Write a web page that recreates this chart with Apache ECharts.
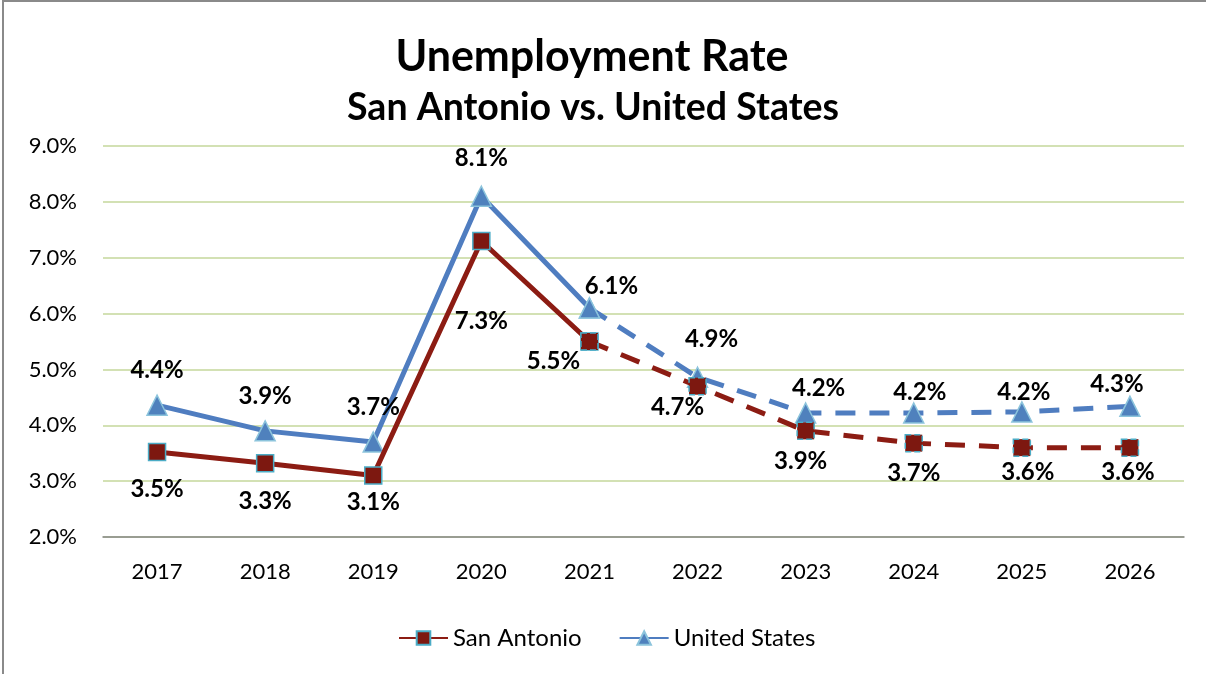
<!DOCTYPE html>
<html>
<head>
<meta charset="utf-8">
<script src="https://cdn.jsdelivr.net/npm/echarts@6/dist/echarts.min.js"></script>
<style>
  html, body { margin: 0; padding: 0; background: #fff; }
  #chart { width: 1206px; height: 674px; }
</style>
</head>
<body>
<div id="chart"></div>
<script>
// Years on the category axis
const years = ['2017', '2018', '2019', '2020', '2021', '2022', '2023', '2024', '2025', '2026'];

// Unemployment rate (%) by year
const sanAntonio = [3.52, 3.32, 3.1, 7.3, 5.5, 4.7, 3.9, 3.68, 3.6, 3.6];
const unitedStates = [4.36, 3.9, 3.7, 8.1, 6.1, 4.86, 4.22, 4.22, 4.24, 4.34];

// Index of the last actual year; later years are projections (dashed)
const lastActual = 4;

// Y axis ticks
const yMin = 2, yMax = 9, yStep = 1;

// Label placement relative to each point [dx, dy]
const saLabelOffset = [[0, 37], [0, 38], [0, 27], [0, 80], [-36, 20], [-20, 21], [-5, 30], [0, 30], [6, 25], [-2, 25]];
const usLabelOffset = [[0, -35], [0, -35], [0, -35], [0, -38], [22, -22], [14, -38], [13, -25], [6, -21], [2, -20], [-13, -22]];

const FONT = 'Lato, "Open Sans", sans-serif';

function pct(v) { return v.toFixed(1) + '%'; }

function part(values, offsets, from, to, labelFrom) {
  return values.map((v, i) => {
    if (i < from || i > to) return null;
    return {
      value: v,
      label: {
        show: i >= labelFrom,
        position: 'inside',
        offset: offsets[i]
      }
    };
  });
}

const labelStyle = {
  color: '#000',
  fontFamily: FONT,
  fontWeight: 'bold',
  fontSize: 24,
  formatter: p => pct(p.value)
};

const saLine = '#8c1c13', saFill = '#7d1810', saEdge = '#4bacc6';
const usLine = '#4f7dc0', usFill = '#4f81bd', usEdge = '#8cc4dc';
const dash = [20, 14];

const chart = echarts.init(document.getElementById('chart'), null, { renderer: 'canvas' });

chart.setOption({
  backgroundColor: '#fff',
  animation: false,
  graphic: [{
    type: 'rect',
    shape: { x: 3, y: 1, width: 1400, height: 900 },
    style: { fill: null, stroke: '#8a8a8a', lineWidth: 2 },
    silent: true
  }],
  title: [{
    text: 'Unemployment Rate',
    left: 587, top: 31, textAlign: 'center',
    textStyle: { fontFamily: FONT, fontWeight: 'bold', fontSize: 43, color: '#000' }
  }, {
    text: 'San Antonio vs. United States',
    left: 588, top: 84, textAlign: 'center',
    textStyle: { fontFamily: FONT, fontWeight: 'bold', fontSize: 37.5, color: '#000' }
  }],
  legend: {
    data: ['San Antonio', 'United States'],
    left: 393, top: 621,
    itemWidth: 49, itemHeight: 17, itemGap: 37,
    textStyle: { fontFamily: FONT, fontSize: 24, color: '#000' }
  },
  grid: { left: 103, right: 22, top: 146, bottom: 137, containLabel: false },
  xAxis: {
    type: 'category',
    data: years,
    boundaryGap: true,
    axisLine: { lineStyle: { color: '#868686', width: 1.5 } },
    axisTick: { show: false },
    axisLabel: { color: '#000', fontFamily: FONT, fontSize: 22, margin: 24 }
  },
  yAxis: {
    type: 'value',
    min: yMin, max: yMax, interval: yStep,
    axisLine: { show: false },
    axisTick: { show: false },
    axisLabel: { color: '#000', fontFamily: FONT, fontSize: 22, margin: 26, formatter: v => pct(v) },
    splitLine: { lineStyle: { color: '#c4d79b', width: 1.5 } }
  },
  series: [
    {
      name: 'United States', type: 'line', z: 2,
      data: part(unitedStates, usLabelOffset, 0, lastActual, 0),
      symbol: 'triangle', symbolSize: 20,
      lineStyle: { color: usLine, width: 5 },
      itemStyle: { color: usFill, borderColor: usEdge, borderWidth: 1.5 },
      label: labelStyle
    },
    {
      name: 'United States', type: 'line', z: 2,
      data: part(unitedStates, usLabelOffset, lastActual, years.length - 1, lastActual + 1),
      symbol: 'triangle', symbolSize: 20,
      lineStyle: { color: usLine, width: 5, type: dash },
      itemStyle: { color: usFill, borderColor: usEdge, borderWidth: 1.5 },
      label: labelStyle
    },
    {
      name: 'San Antonio', type: 'line', z: 3,
      data: part(sanAntonio, saLabelOffset, 0, lastActual, 0),
      symbol: 'rect', symbolSize: 17,
      lineStyle: { color: saLine, width: 5 },
      itemStyle: { color: saFill, borderColor: saEdge, borderWidth: 1.5 },
      label: labelStyle
    },
    {
      name: 'San Antonio', type: 'line', z: 3,
      data: part(sanAntonio, saLabelOffset, lastActual, years.length - 1, lastActual + 1),
      symbol: 'rect', symbolSize: 17,
      lineStyle: { color: saLine, width: 5, type: dash },
      itemStyle: { color: saFill, borderColor: saEdge, borderWidth: 1.5, borderType: 'dashed' },
      label: labelStyle
    }
  ]
});
</script>
</body>
</html>
